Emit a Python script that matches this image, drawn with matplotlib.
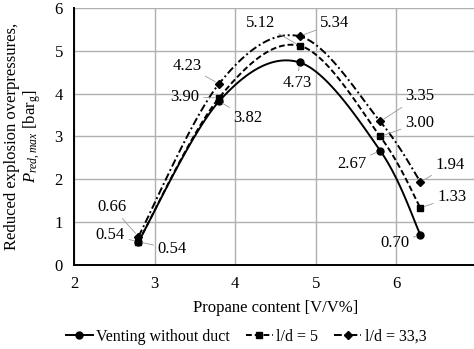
import numpy as np
import matplotlib
matplotlib.use('Agg')
import matplotlib.pyplot as plt

plt.rcParams['font.family'] = 'Liberation Serif'
plt.rcParams['mathtext.fontset'] = 'custom'
plt.rcParams['mathtext.rm'] = 'Liberation Serif'
plt.rcParams['mathtext.it'] = 'Liberation Serif:italic'

#Data
propano = [2.8, 3.8, 4.8, 5.8, 6.3]
sem_duto = [0.54, 3.82, 4.73, 2.67, 0.70]
ld_5 = [0.54, 3.90, 5.12, 3.00, 1.33]
ld_33 = [0.66, 4.23, 5.34, 3.35, 1.94]
nomes = ['Venting without duct', 'l/d = 5', 'l/d = 33,3']

#Functions
def suavizar(x, y, n=30):
    # bezier smoothing like the spreadsheet "smoothed line"
    x = np.asarray(x, float)
    y = np.asarray(y, float)
    px = np.concatenate([[x[0]], x, [x[-1]]])
    py = np.concatenate([[y[0]], y, [y[-1]]])
    xs, ys = [], []
    t = np.linspace(0, 1, n)
    for i in range(1, len(px) - 2):
        x0, y0 = px[i], py[i]
        x3, y3 = px[i + 1], py[i + 1]
        x1 = x0 + (px[i + 1] - px[i - 1]) / 6
        y1 = y0 + (py[i + 1] - py[i - 1]) / 6
        x2 = x3 - (px[i + 2] - px[i]) / 6
        y2 = y3 - (py[i + 2] - py[i]) / 6
        bx = (1-t)**3*x0 + 3*(1-t)**2*t*x1 + 3*(1-t)*t**2*x2 + t**3*x3
        by = (1-t)**3*y0 + 3*(1-t)**2*t*y1 + 3*(1-t)*t**2*y2 + t**3*y3
        xs.extend(bx)
        ys.extend(by)
    return np.array(xs), np.array(ys)

fig = plt.figure(figsize=(4.74, 3.49), dpi=100)
ax = fig.add_axes([0.156, 0.241, 0.850, 0.736])

estilos = [('-', 'o', 5), ((0, (3, 1.5)), 's', 5), ((0, (4, 1.5, 1, 1.5)), 'D', 4.5)]
for serie, nome, (ls, mk, ms) in zip([sem_duto, ld_5, ld_33], nomes, estilos):
    xs, ys = suavizar(propano, serie)
    ax.plot(xs, ys, color='black', ls=ls, lw=1.4, zorder=3)
    ax.plot(propano, serie, ls='none', marker=mk, ms=ms, color='black', zorder=4)
    ax.plot([], [], color='black', ls=ls, lw=1.4, marker=mk, ms=ms, label=nome)

# label offsets (text positions, data units)
rotulos = [
    (propano[0], ld_33[0], 2.47, 1.36),
    (propano[0], ld_5[0], 2.45, 0.70),
    (propano[0], sem_duto[0], 3.22, 0.37),
    (propano[1], ld_33[1], 3.40, 4.65),
    (propano[1], ld_5[1], 3.38, 3.93),
    (propano[1], sem_duto[1], 4.16, 3.43),
    (propano[2], ld_5[2], 4.31, 5.65),
    (propano[2], ld_33[2], 5.24, 5.65),
    (propano[2], sem_duto[2], 4.77, 4.25),
    (propano[3], ld_33[3], 6.29, 3.95),
    (propano[3], ld_5[3], 6.29, 3.32),
    (propano[3], sem_duto[3], 5.45, 2.36),
    (propano[4], ld_33[4], 6.67, 2.34),
    (propano[4], ld_5[4], 6.69, 1.59),
    (propano[4], sem_duto[4], 5.98, 0.51),
]
for xp, yp, xt, yt in rotulos:
    ax.annotate('%.2f' % yp, xy=(xp, yp), xytext=(xt, yt), ha='center', va='center',
                fontsize=12, zorder=5,
                arrowprops=dict(arrowstyle='-', color='#999999', lw=0.6,
                                shrinkA=1, shrinkB=3))

ax.set_xlim(2, 7)
ax.set_ylim(0, 6)
ax.set_xticks([2, 3, 4, 5, 6, 7])
ax.set_yticks([0, 1, 2, 3, 4, 5, 6])
ax.tick_params(labelsize=12, length=0, pad=8)
ax.grid(color='#b0b0b0', lw=1)
ax.set_axisbelow(True)
for lado in ['top', 'right']:
    ax.spines[lado].set_visible(False)
ax.spines['left'].set_linewidth(1.4)
ax.spines['bottom'].set_linewidth(1.4)

ax.set_xlabel('Propane content [V/V%]', fontsize=12, labelpad=6)
ax.set_ylabel('Reduced explosion overpressures,\n$P_{red,max}$ [bar$_{\\mathrm{g}}$]',
              fontsize=12, labelpad=8, linespacing=1.1)

fig.legend(loc='center', bbox_to_anchor=(246/474, 1 - 337/349), ncol=3, frameon=False,
           fontsize=11.5, handlelength=1.7, handletextpad=0.2, columnspacing=1.0)

fig.savefig('out.png', dpi=100)
